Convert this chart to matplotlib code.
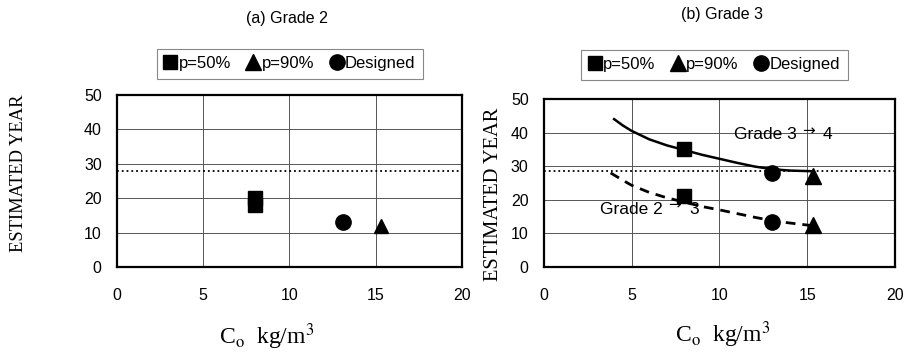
import matplotlib
matplotlib.use('Agg')
import matplotlib.pyplot as plt
from matplotlib.lines import Line2D

plt.rcParams['font.family'] = ['Liberation Sans', 'DejaVu Sans']
plt.rcParams['mathtext.fontset'] = 'stix'

# (a) Grade 2
a_p50_x = [8, 8]
a_p50_y = [18, 20]
a_p90_x = [15.3]
a_p90_y = [12]
a_des_x = [13.1]
a_des_y = [13]
a_limit = 28

# (b) Grade 3
b_p50_x = [8, 8]
b_p50_y = [35, 21]
b_p90_x = [15.3, 15.3]
b_p90_y = [27, 12.5]
b_des_x = [13, 13]
b_des_y = [28, 13.5]
b_limit = 28.5

# curves
c34_x = [4, 4.5, 5, 6, 7, 8, 9, 10, 11, 12, 13, 14, 15.3]
c34_y = [44, 42.1, 40.5, 38, 36.2, 34.8, 33.4, 32.2, 31, 29.9, 29.1, 28.7, 28.5]
c23_x = [3.8, 4.5, 5, 6, 7, 8, 9, 10, 11, 12, 13, 14, 15.3]
c23_y = [28, 25.8, 24.3, 22.2, 20.6, 19.3, 18, 17, 15.9, 14.8, 13.8, 13.1, 12.3]

xticks = [0, 5, 10, 15, 20]
yticks = [0, 10, 20, 30, 40, 50]

serif = 'Liberation Serif'

fig = plt.figure(figsize=(9.05, 3.53), dpi=100)
ax1 = fig.add_axes([0.1293, 0.2436, 0.381, 0.487])
ax2 = fig.add_axes([0.601, 0.2436, 0.388, 0.476])


def style_axes(ax):
    ax.set_xlim(0, 20)
    ax.set_ylim(0, 50)
    ax.set_xticks(xticks)
    ax.set_yticks(yticks)
    ax.grid(True, color='#555555', lw=0.7)
    ax.set_axisbelow(True)
    ax.tick_params(length=0, labelsize=11.5)
    ax.tick_params(axis='x', pad=15)
    ax.tick_params(axis='y', pad=11)
    for s in ax.spines.values():
        s.set_linewidth(1.6)
        s.set_color('black')


def grade_label(ax, x, y, a, b):
    # "Grade a" then a raised arrow then "b"
    t = ax.text(x, y, f'Grade {a}', fontsize=12.5, va='center')
    ax.annotate('→', xy=(1, 0.5), xycoords=t, xytext=(4, 3),
                textcoords='offset points', fontsize=11, va='center',
                family='DejaVu Sans')
    ax.annotate(b, xy=(1, 0.5), xycoords=t, xytext=(19, 0),
                textcoords='offset points', fontsize=12.5, va='center')


for ax in (ax1, ax2):
    style_axes(ax)

ax1.axhline(a_limit, color='black', ls=':', lw=1.3)
ax1.plot(a_p50_x, a_p50_y, 's', color='black', ms=9.5, ls='none')
ax1.plot(a_p90_x, a_p90_y, '^', color='black', ms=10, ls='none')
ax1.plot(a_des_x, a_des_y, 'o', color='black', ms=11, ls='none')

ax2.axhline(b_limit, color='black', ls=':', lw=1.3)
ax2.plot(c34_x, c34_y, color='black', lw=1.8)
ax2.plot(c23_x, c23_y, color='black', lw=2, dashes=(3.5, 2.5))
ax2.plot(b_p50_x, b_p50_y, 's', color='black', ms=9.5, ls='none')
ax2.plot(b_p90_x, b_p90_y, '^', color='black', ms=11, ls='none')
ax2.plot(b_des_x, b_des_y, 'o', color='black', ms=11, ls='none')
grade_label(ax2, 10.8, 39.3, '3', '4')
grade_label(ax2, 3.2, 17.2, '2', '3')

fig.text(287 / 905, 1 - 18 / 353, '(a) Grade 2', ha='center', va='center', fontsize=11.5)
fig.text(722 / 905, 1 - 15 / 353, '(b) Grade 3', ha='center', va='center', fontsize=11.5)

for cx, cy in [(0.3204, 0.820), (0.7895, 0.817)]:
    handles = [
        Line2D([], [], marker='s', color='black', ls='none', ms=10),
        Line2D([], [], marker='^', color='black', ls='none', ms=11),
        Line2D([], [], marker='o', color='black', ls='none', ms=11),
    ]
    leg = fig.legend(handles, ['p=50%', 'p=90%', 'Designed'], loc='center',
                     bbox_to_anchor=(cx, cy), ncol=3, fontsize=12,
                     handlelength=0.7, handletextpad=0.15, columnspacing=1.0,
                     fancybox=False, framealpha=1, borderpad=0.45)
    leg.get_frame().set_edgecolor('#888888')
    leg.get_frame().set_linewidth(0.8)

fig.text(0.02, 0.508, 'ESTIMATED YEAR', rotation=90, ha='center', va='center',
         family=serif, fontsize=13.3)
fig.text(493 / 905, 0.449, 'ESTIMATED YEAR', rotation=90, ha='center', va='center',
         family=serif, fontsize=14.8)

fig.text(267 / 905, 0.045, r'C$_{\mathrm{o}}$  kg/m$^3$', ha='center', va='center',
         family=serif, fontsize=17)
fig.text(723 / 905, 0.051, r'C$_{\mathrm{o}}$  kg/m$^3$', ha='center', va='center',
         family=serif, fontsize=17)

fig.savefig('out.png', dpi=100)
